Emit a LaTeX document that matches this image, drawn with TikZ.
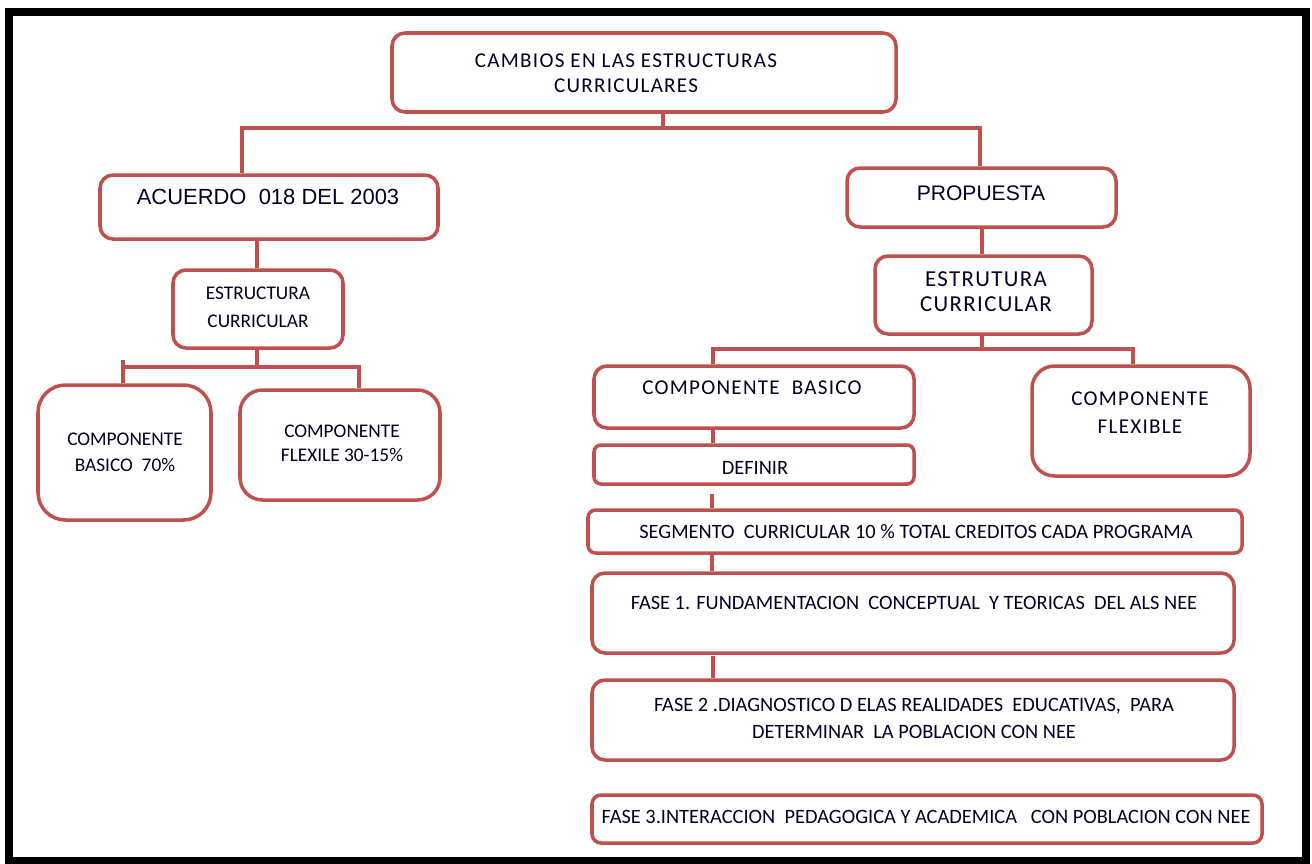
\documentclass[tikz,border=0pt]{standalone}
\usepackage{fontspec}
\setmainfont{Carlito}
\newfontfamily\arialf{Liberation Sans}
\newfontfamily\espaciada[LetterSpace=6]{Carlito}
\usetikzlibrary{fit}
\definecolor{rojo}{RGB}{192,80,77}
\tikzset{
  caja/.style={draw=rojo, line width=2pt, rounded corners=0.26cm, fill=white, inner sep=0pt},
  enlace/.style={draw=rojo, line width=2.8pt},
  texto/.style={align=center, inner sep=0pt, anchor=base, text=black!85!blue},
  normal/.style={texto, font=\fontsize{11}{15}\selectfont},
  largo/.style={texto, font=\fontsize{11.6}{15.3}\selectfont},
  ancha/.style={texto, font=\espaciada\fontsize{12}{14.2}\selectfont}
}
\begin{document}
\begin{tikzpicture}[x=0.02cm, y=-0.02cm]
\useasboundingbox (0,0) rectangle (1312,863);
\draw[line width=4.5pt] (9,12) rectangle (1306,861);

% cajas
\node[caja, fit={(392,33) (896,112)}] (cambios) {};
\node[caja, fit={(100,175) (438,239)}] (acuerdo) {};
\node[caja, fit={(173,270) (343,348)}] (estrucA) {};
\node[caja, rounded corners=0.55cm, fit={(38,385) (211,520)}] (basicoA) {};
\node[caja, rounded corners=0.45cm, fit={(240,390) (440,500)}] (flexileA) {};
\node[caja, fit={(847,168) (1116,227)}] (propuesta) {};
\node[caja, fit={(875,256) (1092,334)}] (estrucB) {};
\node[caja, fit={(594,366) (914,428)}] (basicoB) {};
\node[caja, rounded corners=0.45cm, fit={(1032,366) (1250,476)}] (flexibleB) {};
\node[caja, rounded corners=0.14cm, fit={(594,445) (914,484)}] (definir) {};
\node[caja, rounded corners=0.15cm, fit={(588,510) (1242,553)}] (segmento) {};
\node[caja, fit={(592,573) (1234,653)}] (fase1) {};
\node[caja, fit={(592,680) (1234,760)}] (fase2) {};
\node[caja, rounded corners=0.18cm, fit={(592,795) (1262,843)}] (fase3) {};

% textos (base = ultima linea)
\node[ancha] (tcambios) at (626,92) {CAMBIOS EN LAS ESTRUCTURAS\\CURRICULARES};
\node[texto, font=\arialf\fontsize{12.5}{14}\selectfont] (tacuerdo) at (268,204) {ACUERDO\ \ 018 DEL 2003};
\node[normal, font=\fontsize{11}{15.9}\selectfont] (testrucA) at (258,327) {ESTRUCTURA\\CURRICULAR};
\node[normal, font=\fontsize{11}{14.7}\selectfont] (tbasicoA) at (125,471) {COMPONENTE\\BASICO\ \ 70\%};
\node[normal, font=\fontsize{11}{13.6}\selectfont] (tflexileA) at (342,461) {COMPONENTE\\FLEXILE 30-15\%};
\node[texto, font=\arialf\fontsize{12}{14}\selectfont] (tpropuesta) at (981,200) {PROPUESTA};
\node[ancha, font=\espaciada\fontsize{13}{14.2}\selectfont] (testrucB) at (986,311) {ESTRUTURA\\CURRICULAR};
\node[ancha] (tbasicoB) at (752,394) {COMPONENTE\ \ BASICO};
\node[ancha, font=\espaciada\fontsize{12}{15.9}\selectfont] (tflexibleB) at (1140,433) {COMPONENTE\\FLEXIBLE};
\node[largo] (tdefinir) at (755,474) {DEFINIR};
\node[largo] (tsegmento) at (916,538) {SEGMENTO\ \ CURRICULAR 10 \% TOTAL CREDITOS CADA PROGRAMA};
\node[largo] (tfase1) at (914,609) {FASE 1. FUNDAMENTACION\ \ CONCEPTUAL\ \ Y TEORICAS\ \ DEL ALS NEE};
\node[largo] (tfase2) at (914,738) {FASE 2 .DIAGNOSTICO D ELAS REALIDADES\ \ EDUCATIVAS,\ \ PARA\\DETERMINAR\ \ LA POBLACION CON NEE};
\node[largo] (tfase3) at (926,823) {FASE 3.INTERACCION\ \ PEDAGOGICA Y ACADEMICA\ \ \ CON POBLACION CON NEE};

% enlaces
\coordinate (b0) at (663,128);
\coordinate (bL) at (242,128);
\coordinate (bR) at (980,128);
\draw[enlace] (cambios.south -| b0) -- (b0);
\draw[enlace] (bL |- acuerdo.north) -- (bL) -- (bR) -- (bR |- propuesta.north);

\coordinate (a0) at (257,367);
\coordinate (aL) at (123,367);
\coordinate (aR) at (359,367);
\draw[enlace] (acuerdo.south -| a0) -- (a0 |- estrucA.north);
\draw[enlace] (estrucA.south -| a0) -- (a0);
\draw[enlace] (aL |- basicoA.north) -- (123,360) (aL) -- (aR) -- (aR |- flexileA.north);

\coordinate (p0) at (982,349);
\coordinate (pL) at (713,349);
\coordinate (pR) at (1133,349);
\draw[enlace] (propuesta.south -| p0) -- (p0 |- estrucB.north);
\draw[enlace] (estrucB.south -| p0) -- (p0);
\draw[enlace] (pL |- basicoB.north) -- (pL) -- (pR) -- (pR |- flexibleB.north);

\coordinate (d0) at (712,494);
\coordinate (f0) at (713,656);
\draw[enlace] (basicoB.south -| pL) -- (pL |- definir.north);
\draw[enlace] (d0) -- (d0 |- segmento.north);
\draw[enlace] (segmento.south -| d0) -- (d0 |- fase1.north);
\draw[enlace] (f0) -- (f0 |- fase2.north);
\end{tikzpicture}
\end{document}
